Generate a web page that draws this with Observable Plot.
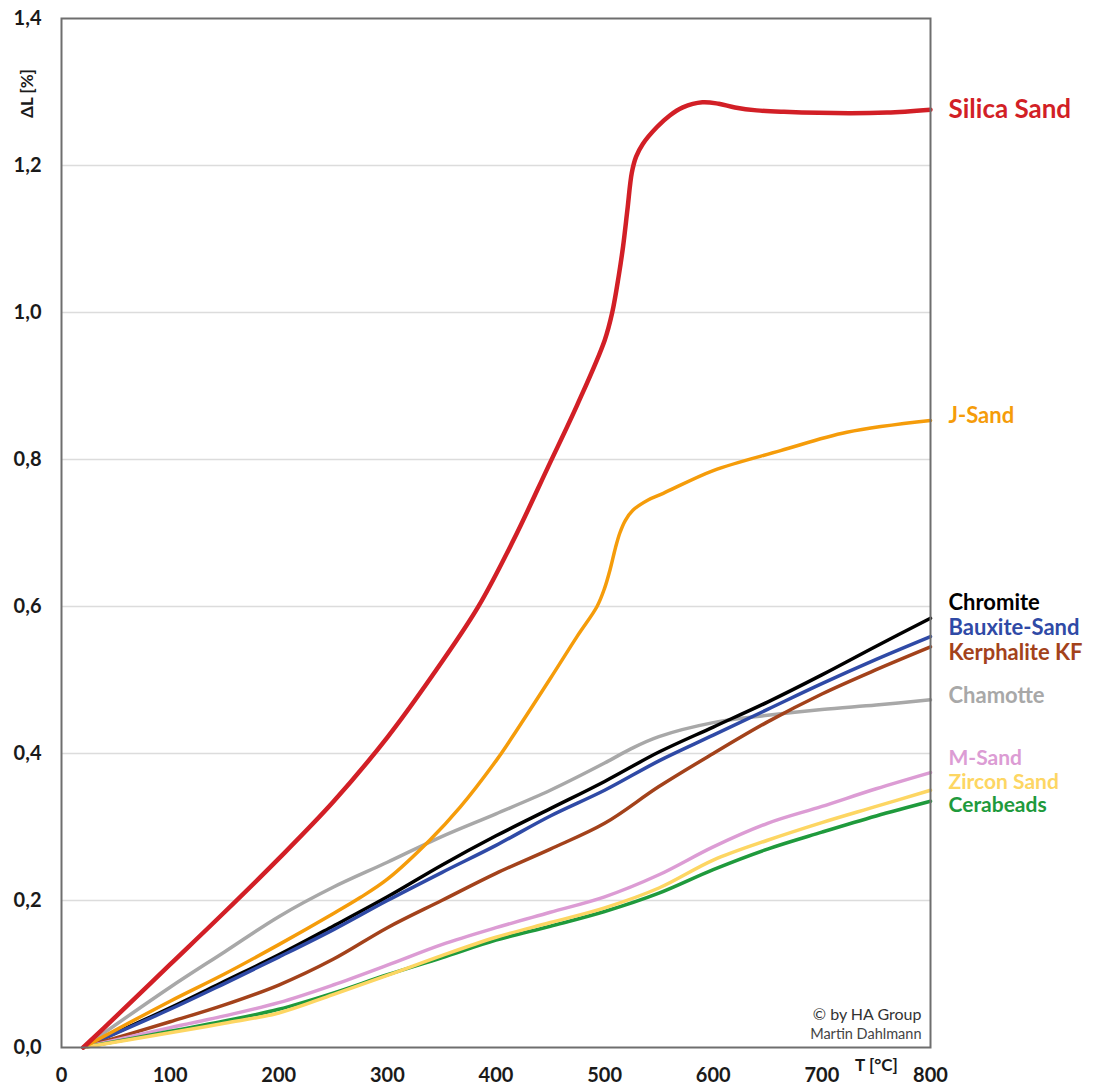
<!DOCTYPE html>
<html>
<head>
<meta charset="utf-8">
<script src="https://cdn.jsdelivr.net/npm/d3@7"></script>
<script src="https://cdn.jsdelivr.net/npm/@observablehq/plot@0.6"></script>
<style>
  html, body { margin: 0; padding: 0; background: #fff; }
  #chart svg { display: block; }
</style>
</head>
<body>
<div id="chart"></div>
<script>
// ---- data ----
const xTicks = [0, 100, 200, 300, 400, 500, 600, 700, 800];
const yTicks = [0, 0.2, 0.4, 0.6, 0.8, 1.0, 1.2, 1.4];

const seriesNames = ["Silica Sand", "J-Sand", "Chromite", "Bauxite-Sand", "Kerphalite KF", "Chamotte", "M-Sand", "Zircon Sand", "Cerabeads"];

const silicaT = [20, 50, 100, 150, 200, 250, 300, 340, 383, 416, 448, 475, 500, 507, 513, 517, 521, 525, 529, 535, 548, 560, 572, 590, 605, 620, 640, 665, 725, 760, 800];
const silicaV = [0, 0.042, 0.113, 0.184, 0.257, 0.334, 0.422, 0.503, 0.598, 0.69, 0.79, 0.875, 0.962, 1.0, 1.05, 1.09, 1.14, 1.19, 1.212, 1.229, 1.252, 1.268, 1.279, 1.286, 1.284, 1.279, 1.275, 1.273, 1.271, 1.272, 1.276];

const jSandT = [20, 100, 150, 200, 250, 275, 300, 339, 367, 400, 413, 450, 475, 493, 500, 505, 510, 514, 519, 526, 540, 554, 600, 662, 723, 800];
const jSandV = [0, 0.063, 0.1, 0.14, 0.182, 0.204, 0.229, 0.282, 0.327, 0.39, 0.418, 0.502, 0.56, 0.6, 0.625, 0.65, 0.68, 0.70, 0.717, 0.731, 0.745, 0.754, 0.785, 0.812, 0.837, 0.853];

const tGrid = [20, 100, 150, 200, 250, 300, 350, 400, 450, 500, 550, 600, 650, 700, 750, 800];
const chromiteV   = [0, 0.054, 0.09, 0.126, 0.165, 0.205, 0.248, 0.288, 0.325, 0.362, 0.402, 0.436, 0.47, 0.507, 0.546, 0.584];
const bauxiteV    = [0, 0.052, 0.087, 0.123, 0.16, 0.2, 0.238, 0.275, 0.315, 0.35, 0.39, 0.425, 0.46, 0.495, 0.528, 0.559];
const kerphaliteV = [0, 0.035, 0.058, 0.085, 0.12, 0.163, 0.2, 0.237, 0.27, 0.305, 0.355, 0.40, 0.443, 0.481, 0.514, 0.545];
const chamotteT   = [20, 100, 150, 200, 250, 300, 350, 400, 450, 500, 525, 550, 600, 650, 700, 750, 800];
const chamotteV   = [0, 0.082, 0.13, 0.178, 0.218, 0.252, 0.287, 0.318, 0.35, 0.387, 0.407, 0.423, 0.442, 0.452, 0.46, 0.466, 0.473];
const mSandV      = [0, 0.027, 0.043, 0.061, 0.085, 0.112, 0.14, 0.163, 0.184, 0.205, 0.235, 0.273, 0.305, 0.328, 0.352, 0.374];
const zirconV     = [0, 0.02, 0.033, 0.047, 0.072, 0.098, 0.125, 0.15, 0.17, 0.19, 0.217, 0.255, 0.282, 0.306, 0.328, 0.35];
const cerabeadsV  = [0, 0.022, 0.036, 0.052, 0.074, 0.099, 0.122, 0.146, 0.165, 0.185, 0.21, 0.242, 0.27, 0.293, 0.315, 0.335];

// ---- styles ----
const colors = {
  "Silica Sand": "#d21f26",
  "J-Sand": "#f59c0a",
  "Chromite": "#000000",
  "Bauxite-Sand": "#2f4aa6",
  "Kerphalite KF": "#a3421b",
  "Chamotte": "#a8a8a8",
  "M-Sand": "#dc9cd4",
  "Zircon Sand": "#fdd663",
  "Cerabeads": "#1f9a3c"
};
const labelDy = {
  "Silica Sand": 0, "J-Sand": -5, "Chromite": -15, "Bauxite-Sand": -9, "Kerphalite KF": 6,
  "Chamotte": -4, "M-Sand": -14, "Zircon Sand": -8, "Cerabeads": 4
};
const labelSize = n => n === "Silica Sand" ? 26 : (["M-Sand", "Zircon Sand", "Cerabeads"].includes(n) ? 21 : 22);

const toRows = (name, T, V) => T.map((t, i) => ({name, t, v: V[i]}));
const data = {
  "Silica Sand": toRows("Silica Sand", silicaT, silicaV),
  "J-Sand": toRows("J-Sand", jSandT, jSandV),
  "Chromite": toRows("Chromite", tGrid, chromiteV),
  "Bauxite-Sand": toRows("Bauxite-Sand", tGrid, bauxiteV),
  "Kerphalite KF": toRows("Kerphalite KF", tGrid, kerphaliteV),
  "Chamotte": toRows("Chamotte", chamotteT, chamotteV),
  "M-Sand": toRows("M-Sand", tGrid, mSandV),
  "Zircon Sand": toRows("Zircon Sand", tGrid, zirconV),
  "Cerabeads": toRows("Cerabeads", tGrid, cerabeadsV)
};

const drawOrder = ["Chamotte", "Chromite", "Bauxite-Sand", "Kerphalite KF", "M-Sand", "Cerabeads", "Zircon Sand", "J-Sand", "Silica Sand"];

const fmt = d => d.toFixed(1).replace(".", ",");

const lineMarks = drawOrder.map(n => Plot.line(data[n], {
  x: "t", y: "v", stroke: colors[n],
  strokeWidth: n === "Silica Sand" ? 4.5 : 3.5,
  curve: "catmull-rom"
}));

const labelMarks = seriesNames.map(n => {
  const last = data[n][data[n].length - 1];
  return Plot.text([last], {
    x: "t", y: "v", text: () => n, fill: colors[n],
    textAnchor: "start", dx: 18, dy: labelDy[n],
    fontSize: labelSize(n), fontWeight: "bold"
  });
});

const chart = Plot.plot({
  width: 1094,
  height: 1090,
  marginLeft: 61,
  marginTop: 18,
  marginRight: 164,
  marginBottom: 43,
  style: {fontFamily: "Lato, 'Open Sans', sans-serif", color: "#1a1a1a", background: "#fff"},
  x: {domain: [0, 800]},
  y: {domain: [0, 1.4]},
  marks: [
    Plot.gridY([0.2, 0.4, 0.6, 0.8, 1.0, 1.2], {stroke: "#dcdcdc", strokeOpacity: 1, strokeWidth: 1.5}),
    ...lineMarks,
    Plot.frame({stroke: "#6e6e6e", strokeWidth: 2}),
    Plot.axisX(xTicks, {tickSize: 0, tickPadding: 20, fontSize: 20, fontWeight: "bold", label: null}),
    Plot.axisY(yTicks, {tickSize: 0, tickPadding: 20, fontSize: 20, fontWeight: "bold", tickFormat: fmt, label: null}),
    Plot.text(["ΔL [%]"], {frameAnchor: "top-left", textAnchor: "middle", lineAnchor: "middle", dx: -34, dy: 75, rotate: -90, fontSize: 17, fontWeight: "bold", fill: "#1a1a1a"}),
    Plot.text(["T [°C]"], {frameAnchor: "bottom-right", textAnchor: "middle", lineAnchor: "middle", dx: -54, dy: 18, fontSize: 17, fontWeight: "bold", fill: "#1a1a1a"}),
    Plot.text(["© by HA Group"], {frameAnchor: "bottom-right", textAnchor: "end", lineAnchor: "middle", dx: -9, dy: -33, fontSize: 16, fill: "#333"}),
    Plot.text(["Martin Dahlmann"], {frameAnchor: "bottom-right", textAnchor: "end", lineAnchor: "middle", dx: -9, dy: -13, fontSize: 14.5, fill: "#444"}),
    ...labelMarks
  ]
});

document.getElementById("chart").appendChild(chart);
</script>
</body>
</html>
